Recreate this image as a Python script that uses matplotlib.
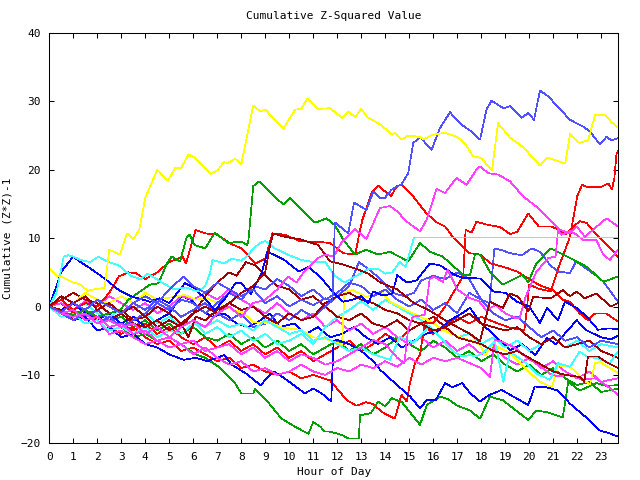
import matplotlib
matplotlib.use("Agg")
import matplotlib.pyplot as plt

# (hour, cumulative value) vertices
yellow_top = [(0, 5.6), (0.3, 4.5), (0.6, 4.2), (1.0, 3.5), (1.3, 3.2), (1.6, 2.3), (2.0, 2.6), (2.3, 2.7),
              (2.5, 8.3), (2.95, 7.6), (3.15, 9.8), (3.25, 10.7), (3.5, 9.8), (3.75, 11.2), (4.0, 15.9),
              (4.5, 20.0), (4.95, 18.4), (5.25, 20.3), (5.5, 20.3), (5.8, 22.2), (6.0, 21.9), (6.75, 19.4),
              (7.05, 20.0), (7.25, 21.1), (7.45, 21.0), (7.75, 21.6), (8.0, 20.8), (8.5, 29.4), (8.8, 28.5),
              (9.0, 28.8), (9.75, 26.0), (10.25, 28.8), (10.5, 28.9), (10.75, 30.4), (11.2, 28.9),
              (11.7, 29.0), (12.2, 27.6), (12.45, 28.5), (12.75, 27.7), (13.0, 28.9), (13.25, 27.7),
              (13.8, 26.6), (14.3, 25.1), (14.4, 25.4), (14.7, 24.4), (14.95, 25.0), (15.45, 24.8),
              (15.6, 24.4), (15.95, 25.1), (16.5, 25.4), (17.0, 24.8), (17.35, 23.7), (17.65, 22.0),
              (18.0, 21.7), (18.45, 19.9), (18.7, 26.8), (19.2, 24.7), (19.75, 23.3), (20.45, 20.6),
              (20.75, 21.8), (21.5, 20.9), (21.7, 25.2), (22.1, 23.9), (22.45, 24.3), (22.75, 28.0),
              (23.15, 28.0), (23.45, 26.9), (23.7, 26.2)]
slate_top = [(0, 0), (0.5, -0.8), (1, 0.5), (1.5, -0.5), (2, 1), (2.5, 0), (3, -1), (3.5, 0.5), (4, 1.5),
             (4.5, 0.5), (5, 2.5), (5.6, 4.4), (6, 3), (6.5, 2), (7, 3.5), (7.5, 2.5), (8, 1.5), (8.5, 2.5),
             (9, 0.5), (9.5, 1.5), (10, 0), (10.5, 1), (11, 0.2), (11.5, 1.2), (11.8, 0.8), (11.9, 12.3),
             (12.46, 10.7), (12.7, 15.2), (13.22, 14.1), (13.5, 16.8), (13.78, 15.9), (13.99, 15.9),
             (14.27, 17.1), (14.68, 17.9), (14.96, 19.5), (15.17, 23.9), (15.45, 24.8), (15.93, 22.9),
             (16.28, 26.1), (16.7, 28.4), (16.9, 27.6), (17.18, 26.6), (17.67, 25.4), (17.95, 24.4),
             (18.22, 28.8), (18.43, 30.1), (18.92, 29.0), (19.2, 29.3), (19.68, 27.6), (19.96, 28.3),
             (20.2, 27.3), (20.45, 31.6), (20.8, 30.7), (21.7, 27.3), (22.25, 26.3), (22.53, 25.6),
             (22.95, 23.7), (23.22, 24.8), (23.43, 24.3), (23.7, 24.6)]
green_peak = [(0, 0), (0.5, -0.8), (1, -1.2), (1.5, -0.5), (2, -1.5), (2.5, -1), (2.95, -0.5), (3.3, 1.0),
              (3.7, 2), (4.2, 3.2), (4.55, 3.4), (4.9, 6.3), (5.1, 7.3), (5.45, 6.6), (5.73, 10.2),
              (5.85, 10.5), (6.05, 9.0), (6.5, 8.5), (6.9, 10.8), (7.45, 9.3), (8.0, 9.5), (8.25, 9.0),
              (8.3, 9.7), (8.5, 17.6), (8.74, 18.3), (9.75, 14.9), (10.03, 15.9), (11.0, 12.4), (11.2, 12.4),
              (11.55, 12.9), (11.9, 11.9), (12.25, 9.8), (12.74, 7.6), (13.2, 8.3), (13.7, 7.6), (14.2, 8.0),
              (14.96, 6.6), (15.45, 9.3), (15.86, 8.0), (16.4, 7.3), (17.25, 4.6), (17.53, 4.6),
              (17.74, 7.6), (17.95, 7.6), (18.36, 5.1), (18.9, 3.2), (19.7, 4.6), (19.96, 3.6), (20.3, 6.3),
              (20.9, 8.5), (21.7, 7.1), (22.4, 5.8), (23.1, 3.6), (23.7, 4.4)]
magenta_b = [(0, 0), (0.5, -1), (1, -1.5), (1.5, -1), (2, -2.5), (2.5, -2), (3, -3), (3.5, -2.5), (4, -4),
             (4.5, -3), (5, -4.5), (5.5, -3), (6, -2), (6.5, -3), (7, -1), (7.5, 0), (8, -1.5), (8.5, 0.5),
             (9, 1), (9.5, 2.5), (9.95, 4.4), (10.3, 3.5), (10.6, 5), (11.2, 7.1), (11.5, 7.6), (11.85, 7.3),
             (12.2, 9.5), (12.74, 11.3), (13.22, 9.9), (13.78, 14.4), (14.2, 14.7), (14.5, 13.9),
             (14.9, 12.4), (15.45, 11.0), (15.73, 12.7), (16.14, 17.2), (16.49, 16.6), (16.97, 18.8),
             (17.39, 17.8), (17.8, 20.0), (17.95, 20.5), (18.29, 19.5), (18.7, 19.3), (19.2, 18.3),
             (19.75, 16.1), (20.3, 14.6), (20.86, 12.7), (21.28, 11.2), (21.7, 10.7), (21.98, 11.7),
             (22.32, 10.2), (23.22, 12.9), (23.7, 11.7)]
cyan_a = [(0, 0), (0.3, 2), (0.6, 7.3), (0.8, 7.5), (1.0, 7.3), (1.3, 6.8), (1.7, 6.5), (2.05, 7.3),
          (2.4, 6.6), (2.9, 6), (3.4, 4.5), (3.8, 4), (4.1, 4.8), (4.8, 3.3), (5.2, 2.5), (5.7, 2.8),
          (6.2, 2.2), (6.5, 3), (6.7, 4.9), (6.8, 6.8), (7.3, 6.3), (7.6, 7), (8.0, 6.7), (8.3, 7.5),
          (8.5, 8.5), (8.8, 9.3), (9.0, 9.6), (9.4, 8.5), (10, 7.5), (10.5, 6.8), (11, 6.5), (11.5, 6.5),
          (11.9, 4.5), (12.3, 3.5), (12.8, 4.5), (13.3, 5.5), (13.7, 5.5), (14.0, 4.8), (14.3, 5.0),
          (14.6, 6.5), (14.85, 5.8), (15.2, 10.1), (23.7, 10.1)]
cyan_b = [(0, 0), (0.5, -1.5), (1, -1), (1.5, -2.5), (2, -2), (2.5, -3.5), (3, -3), (3.5, -4), (4, -3),
          (4.5, -4.5), (5, -3.5), (5.5, -4), (6, -2.5), (6.5, -3), (7, -2), (7.5, -3), (8, -2.5), (8.5, -3.5),
          (9, -2), (9.5, -3), (10, -4), (10.5, -3.5), (11, -5), (11.5, -4.5), (12, -5.5), (12.5, -6.5),
          (13, -6), (13.5, -7), (14.2, -7.8), (14.6, -4.4), (15.16, -5.3), (15.86, -2.9), (16.3, -4.5),
          (16.8, -6.5), (17.2, -7.3), (17.53, -7.1), (17.8, -7.3), (18.15, -6.6), (18.57, -5.1),
          (18.92, -11.0), (19.2, -6.6), (19.8, -8.1), (20.3, -9.8), (20.86, -10.7), (21.2, -8.3),
          (21.7, -8.8), (22.1, -6.6), (22.4, -7.3), (22.87, -7.6), (23.36, -8.3), (23.64, -6.8), (23.7, -6.6)]
cyan_c = [(0, 0), (0.5, 1), (1, -0.5), (1.5, 0.5), (2, -1), (2.5, -1.5), (3, -0.5), (3.5, -2), (4, -1),
          (4.5, -2.5), (5, -1.5), (5.5, -3), (6, -2), (6.5, -4), (7, -3), (7.5, -4.5), (8, -3.5), (8.5, -5),
          (9, -4), (9.5, -5.5), (10, -5), (10.5, -4), (11, -5.5), (11.5, -3), (12, -1.5), (12.5, -0.5),
          (13, 0.8), (13.5, -0.5), (14, 1), (14.5, 0), (15, -1), (15.5, -2), (16, -3.5), (16.5, -3),
          (17, -4.5), (17.5, -4), (18, -5.5), (18.5, -4.5), (19, -6), (19.5, -5), (20, -6.5), (20.5, -5.5),
          (21, -4.5), (21.5, -6), (22, -5), (22.5, -6.5), (23, -5.5), (23.7, -6)]
red_f = [(0, 0), (0.5, 1), (1, -0.5), (1.5, 0.5), (2, 0), (2.5, 2), (2.9, 4.4), (3.3, 5), (3.6, 4.9),
         (4.0, 4), (4.5, 5), (5, 6.5), (5.55, 7.3), (5.7, 6.3), (6.1, 11.2), (6.5, 10.7), (7, 10.5),
         (7.5, 9.3), (8, 8.5), (8.6, 6.3), (9.0, 7), (9.3, 10.7), (9.8, 10.5), (10.5, 9.5), (11, 9.5),
         (11.7, 9.3), (12.25, 7.8), (12.75, 7.6), (12.95, 11.2), (13.05, 12.7), (13.45, 16.8), (13.7, 17.7),
         (14.1, 16.5), (14.25, 16.2), (14.5, 17.7), (14.7, 17.7), (15.05, 16.6), (15.7, 13.7), (16.1, 12.4),
         (16.5, 11.7), (16.85, 10.0), (17.5, 7.8), (17.95, 7.6), (18.4, 6.3), (19.1, 5.6), (19.5, 5.1),
         (20.0, 4.0), (20.5, 3.0), (21.0, 2.4), (21.4, 1.0), (21.7, 0.7), (22.1, -1), (22.45, -2),
         (22.75, -1), (23.2, -1), (23.7, -2.2)]
red_d = [(0, 0), (0.5, -1), (1, -0.5), (1.5, -2), (2, -1.5), (2.5, -3), (3, -4), (3.5, -3), (4, -4.5),
         (4.5, -5.5), (5, -5), (5.5, -6.5), (6, -6), (6.5, -7), (7, -8), (7.5, -7.5), (8, -9), (8.5, -8.5),
         (9, -9.5), (9.5, -10), (10, -9.5), (10.5, -10.5), (11, -10), (11.7, -10.8), (12.4, -13.7),
         (12.8, -14.5), (13.2, -14), (13.45, -14.2), (13.9, -15.5), (14.4, -16.4), (14.68, -12.9),
         (14.9, -13.9), (15.03, -11.2), (15.24, -8.3), (15.45, -7), (15.65, -2.4), (16.0, -2.4),
         (16.5, 0), (17.0, 3), (17.25, 4.4), (17.35, 11.2), (17.6, 10.8), (17.8, 12.4), (18.2, 12.0),
         (18.8, 11.6), (19.2, 10.6), (19.5, 10.9), (19.96, 13.6), (20.4, 11.7), (20.9, 11.7), (21.2, 11.3),
         (21.5, 10.5), (21.8, 11.5), (22.1, 12.5), (22.4, 12.2), (22.8, 10.5), (23.1, 9.5), (23.7, 7.3)]
red_c = [(0, 0), (0.5, 0.5), (1, -1), (1.5, -0.5), (2, -2), (2.5, -1), (3, -2.5), (3.5, -3.5), (4, -2.5),
         (4.5, -4), (5, -3), (5.5, -4.5), (6, -5.5), (6.5, -4.5), (7, -6), (7.5, -5), (8, -6.5), (8.5, -5.5),
         (9, -7), (9.5, -6), (10, -7.5), (10.5, -6.5), (11, -8), (11.5, -7), (12, -6), (12.5, -5),
         (13, -6.5), (13.5, -5.5), (14, -4), (14.5, -5), (15, -3.5), (15.5, -2.5), (16, -4), (16.5, -3),
         (17, -1.5), (17.5, -2.5), (18, -1.5), (18.64, -2.4), (19.27, -3.2), (19.8, -3.4), (19.9, -0.5),
         (20.0, 3.2), (20.4, 2.6), (20.9, 2.2), (21.2, 5.5), (21.7, 10.2), (22.0, 16.1), (22.2, 17.8),
         (22.4, 17.5), (23.0, 17.5), (23.3, 18.0), (23.45, 17.1), (23.55, 18.8), (23.64, 22.4), (23.7, 22.7)]
blue_bottom = [(0, 0), (0.5, -1), (1, -2), (1.5, -1.5), (2, -3.5), (2.5, -3), (3, -4.5), (3.5, -4), (4, -5.5),
               (4.5, -6), (5, -7), (5.6, -7.8), (6.1, -7.5), (6.6, -8), (7.3, -7.1), (7.6, -8.5), (8.2, -9.8),
               (8.8, -11.5), (9.35, -9.5), (9.8, -10.5), (10.65, -12.7), (11.0, -12.0), (11.35, -12.7),
               (11.75, -13.9), (11.85, -5.0), (12.0, -4.9), (12.5, -5.5), (13.0, -6.5), (13.5, -8),
               (13.8, -9.3), (14.5, -11.5), (15.05, -13.2), (15.45, -14.9), (15.73, -13.7), (16.1, -13.7),
               (16.5, -11.2), (16.8, -11.8), (17.2, -11.2), (17.55, -12.7), (17.95, -13.9), (18.3, -13.0),
               (18.85, -12.2), (19.5, -13.5), (19.96, -14.4), (20.23, -11.7), (20.7, -11.8), (21.2, -12.3),
               (21.7, -14.2), (22.5, -16.6), (22.9, -18.1), (23.3, -18.5), (23.7, -19.0)]
green_bottom = [(0, 0), (0.5, -1.5), (1, -1), (1.5, -2.5), (2, -2), (2.5, -3.5), (3, -3), (3.5, -4.5), (4, -4),
                (4.5, -5), (5, -4.5), (5.6, -5.8), (6.1, -7), (6.5, -7.5), (7.05, -8.8), (7.74, -11.2),
                (8.0, -12.7), (8.5, -12.7), (8.57, -12.1), (9.0, -13.5), (9.68, -16.4), (10.2, -17.5),
                (10.52, -18.1), (10.8, -18.6), (11.0, -16.9), (11.3, -17.6), (11.49, -18.3), (11.7, -18.3),
                (12.2, -18.8), (12.46, -19.3), (12.9, -19.3), (12.95, -15.9), (13.4, -15.6), (13.7, -13.9),
                (14.0, -14.6), (14.27, -13.4), (14.7, -14), (15.45, -17.3), (15.73, -14.4), (16.28, -13.2),
                (16.6, -13.5), (17.0, -14.5), (17.53, -15.2), (17.95, -16.4), (18.36, -13.2), (18.9, -13.7),
                (19.96, -16.6), (20.3, -15.2), (20.8, -15.5), (21.4, -16.2), (21.63, -11.0), (22.1, -12.3),
                (22.8, -11.2), (23.2, -11.6), (23.7, -11.5)]
blue_b = [(0, 0), (0.2, 2), (0.5, 5.1), (1.0, 7.3), (1.3, 6.5), (1.7, 5.6), (2.3, 4.1), (2.9, 2.4), (3.4, 1.5),
          (4.2, 0.7), (4.6, 1.2), (5.0, 0.5), (5.65, 3.4), (6.0, 2.8), (6.4, 1.5), (6.9, -0.5), (7.3, 1.0),
          (7.75, 3.4), (8.0, 3.4), (8.4, 1.8), (8.85, 4.9), (9.1, 8.0), (9.4, 7.5), (9.8, 6.8), (10.4, 5.1),
          (10.8, 5.8), (11.3, 4.3), (11.75, 2.4), (12.25, 0.7), (12.65, 1), (13.0, 1.5), (13.3, 0.5),
          (13.5, 2.2), (13.9, 1.6), (14.3, 1.9), (14.5, 4.6), (14.9, 3.5), (15.3, 3.8), (15.86, 6.3),
          (16.3, 6.0), (16.8, 4.8), (17.2, 4.2), (17.95, 4.1), (18.5, 2.2), (19.0, 2.0), (19.5, 0.7),
          (20.0, 0.0), (20.45, -2.4), (20.74, -0.2), (21.2, -2.0), (21.49, 0.7), (21.98, -0.2), (22.4, -1.5),
          (22.87, -3.4), (23.3, -3.2), (23.7, -3.3)]
blue_c = [(0, 0), (0.5, -0.5), (1, 0.5), (1.5, -1), (2, -2), (2.5, -1), (3, -2.5), (3.5, -1.5), (4, -3),
          (4.5, -2), (5, -1), (5.5, 1.5), (5.9, 1), (6.3, -0.5), (6.8, -1.5), (7.3, -1), (7.8, -2.5), (8.3, -3),
          (8.8, -2), (9.2, -1), (9.6, -3), (10.2, -2.5), (10.7, -4), (11.2, -3), (11.7, -4.5), (12.2, -4),
          (12.7, -3), (13.2, -4.5), (13.7, -5.5), (14.2, -4.5), (14.7, -6), (15.2, -5), (15.7, -4),
          (16.2, -3.5), (16.7, -2), (17.2, -1), (17.53, -0.2), (18, -2.5), (18.5, -4), (19.2, -6.4),
          (19.7, -5.5), (20.25, -7.1), (20.74, -4.6), (21.1, -5.5), (21.98, -2.0), (22.4, -3.5), (23, -4.5),
          (23.4, -4.8), (23.7, -4.3)]
slate_b = [(0, 0), (0.5, -1), (1, -2), (1.5, -1), (2, -2.5), (2.5, -1.5), (3, -3), (3.5, -2), (4, -1),
           (4.5, 0.5), (5, -0.5), (5.5, 1), (6, 0.5), (6.5, -1), (7, 0.5), (7.5, 2), (8, 1), (8.5, 3), (9, 2.5),
           (9.5, 4), (10, 3), (10.5, 1.5), (11, 2.5), (11.5, 1), (12, 2), (12.5, 3.5), (13, 3), (13.5, 1.5),
           (14, 2.5), (14.5, 1), (15, 0), (15.5, 1), (16, -0.5), (16.5, 0.5), (17, -1), (17.5, 2), (18.0, 1),
           (18.35, 0.5), (18.55, 8.5), (18.9, 8.2), (19.2, 7.8), (19.7, 7.5), (20.1, 8.5), (20.45, 8),
           (20.86, 6.1), (21.2, 5.1), (21.7, 4.9), (21.96, 6.6), (22.4, 5.5), (22.8, 4.5), (23.1, 3.6),
           (23.7, 0.7)]
slate_c = [(0, 0), (0.5, 1), (1, -0.5), (1.5, -1.5), (2, -0.5), (2.5, -2), (3, -1), (3.5, 0.5), (4, -0.5),
           (4.5, 1), (5, 0), (5.5, -1.5), (6, -0.5), (6.5, 0.5), (7, -1), (7.5, -2), (8, -1), (8.5, -3),
           (9, -2.5), (9.5, -1), (10, -2), (10.5, -0.5), (11, -1.5), (11.5, 0), (12, 1.5), (12.5, 3),
           (12.9, 6.5), (13.3, 5.5), (13.8, 4), (14.3, 2), (14.8, 1.5), (15.2, 2), (15.5, 3.8), (16, 4.5),
           (16.5, 4), (17, 5), (17.5, 4), (18, 1), (18.5, -1), (19, -2), (19.5, -1.5), (20, -3), (20.5, -4.5),
           (21, -3.5), (21.5, -5), (22, -4.5), (22.5, -6), (23, -5), (23.7, -5.5)]
magenta_c = [(0, 0), (0.5, -1), (1, -0.5), (1.5, -2), (2, -1.5), (2.5, -3), (3, -2.5), (3.5, -4), (4, -3.5),
             (4.5, -5), (5, -4.5), (5.5, -5.5), (6, -5), (6.5, -6.5), (7, -6), (7.5, -5.5), (8, -7), (8.5, -6),
             (9, -7.5), (9.5, -6.5), (10, -8), (10.5, -7), (11, -7.5), (11.5, -8.5), (12, -8), (12.5, -7),
             (13, -6), (13.5, -4.9), (14, -5.5), (14.5, -7.5), (14.8, -8.3), (14.95, -3.4), (15.15, -1.5),
             (15.65, -1.2), (15.85, 3.9), (16.0, 4.4), (16.4, 3.6), (16.6, 5.4), (17.0, 2.5), (17.53, 1.2),
             (17.9, 0.8), (18.2, -0.5), (18.6, 0.2), (19.0, -1), (19.45, -1.7), (19.6, -1.7), (19.85, 1.4),
             (20.3, 5.1), (20.8, 7.1), (21.1, 7.3), (21.2, 11.2), (21.35, 10.5), (21.7, 11.0), (21.98, 10.5),
             (22.25, 9.7), (22.8, 9.7), (23.08, 7.6), (23.36, 6.8), (23.7, 8.3)]
magenta_d = [(0, 0), (0.5, -1.5), (1, -1), (1.5, -2.5), (2, -2), (2.5, -4), (3, -3.5), (3.5, -4.5), (4, -5.5),
             (4.5, -5), (5, -6), (5.5, -5.5), (6, -7), (6.5, -6), (7, -7.5), (7.5, -8.5), (8, -8), (8.5, -9.5),
             (9, -9), (9.5, -10), (10, -9.5), (10.5, -8.5), (11, -9.5), (11.5, -10), (12, -9), (12.5, -9.5),
             (13, -8.5), (13.5, -9), (14, -8), (14.5, -8.8), (15, -7.5), (15.5, -8.5), (16, -7.5), (16.5, -8),
             (17, -7.5), (17.53, -8.3), (18.0, -9), (18.36, -10.3), (18.57, -4.9), (18.9, -5.2), (19.4, -6),
             (19.9, -7.5), (20.3, -8.3), (20.9, -9.9), (21.2, -10.2), (21.7, -10), (22.2, -10.7),
             (22.75, -10.5), (23.2, -11.5), (23.7, -12.9)]
magenta_e = [(0, 0), (0.5, 0.5), (1, -0.5), (1.5, 0.8), (2, 0), (2.5, 1.5), (3, 0.5), (3.5, -0.5), (4, 0.5),
             (4.5, -1), (5, 0), (5.5, 1.5), (6, 1), (6.5, 2), (7, 1), (7.5, 2.5), (8, 1), (8.5, 0), (9, -1),
             (9.5, 0.5), (10, -1), (10.5, -2), (11, -1), (11.5, -3), (12, -2), (12.5, -3.5), (13, -2.5),
             (13.5, -4), (14, -3), (14.5, -4.5), (15, -5.5), (15.5, -4.5), (16, -6), (16.5, -5), (17, -6.5),
             (17.5, -5.5), (18, -7), (18.5, -6), (19, -7.5), (19.5, -8.5), (20, -7.5), (20.5, -9), (21, -8),
             (21.5, -9.5), (22, -10.5), (22.5, -9.5), (23, -11), (23.7, -10.5)]
darkred_g = [(0, 0), (0.5, 1.5), (1, 0.5), (1.5, 1.5), (2, -0.5), (2.5, 0.5), (3, -1), (3.5, 0), (4, -1.5),
             (4.5, 0), (5, -1), (5.5, -2.5), (6, -1), (6.5, 0), (7, -1), (7.5, 0.5), (8, 2), (8.5, 3), (9.0, 5),
             (9.2, 9), (9.33, 10.7), (9.8, 10.2), (10.5, 9.8), (11.2, 9), (11.7, 6.6), (12.2, 6.2), (12.8, 5.5),
             (13.3, 4.8), (13.8, 3.5), (14.5, 2.5), (15.2, 0.5), (15.8, -0.5), (16.5, -2), (17.0, -3),
             (17.53, -4), (17.95, -5.1), (18.36, 0.7), (18.9, -0.2), (19.2, 1.9), (19.55, 1.4), (19.96, -0.7),
             (20.17, 1.4), (20.9, 1.2), (21.4, 2.4), (21.7, 1.5), (21.98, 2.2), (22.3, 1.2), (22.8, 1.9),
             (23.4, 0.0), (23.7, 0.5)]
darkred_h = [(0, 0), (0.5, -0.5), (1, -2), (1.5, -1), (2, -2.5), (2.5, -2), (3, -1), (3.5, -2.5), (4, -3),
             (4.5, -2), (5, -3.5), (5.5, -2.5), (5.8, -4.5), (6.1, -1.5), (6.5, -2), (7, -0.5), (7.5, 0.5),
             (8, -0.5), (8.5, 0), (9, -1.5), (9.5, -2.5), (10, -1), (10.5, -2), (11, -1.5), (11.5, 0.5),
             (12, 1.5), (12.5, 2), (13, 1), (13.5, 0.5), (14, -0.5), (14.5, -1), (15, -2), (15.5, -2.5),
             (16, -3.5), (16.5, -3), (17, -4.5), (17.5, -5), (18, -5.5), (18.5, -6.5), (19, -7), (19.5, -6.5),
             (20, -7.5), (20.5, -8.5), (21, -9.5), (21.5, -10), (22.1, -10.3), (22.3, -11), (22.45, -7.3),
             (22.87, -7.3), (23.2, -8.1), (23.7, -9)]
darkred_i = [(0, 0), (0.5, 1), (1, 2), (1.5, 1), (2, 0.5), (2.5, -1), (3, -0.5), (3.5, -2), (4, -1.5),
             (4.5, -3), (5, -2), (5.5, -3), (6, -1), (6.5, 1.5), (7, 3.5), (7.5, 5), (7.8, 4.5), (8.2, 6.5),
             (8.6, 6), (9, 4.5), (9.5, 3), (10, 2.5), (10.5, 1), (11, 1.5), (11.5, 0), (12, -1.5), (12.5, -2),
             (13, -1), (13.5, -2.5), (14, -3), (14.5, -2), (15, -3.5), (15.5, -2.5), (16, -1.5), (16.5, -3),
             (17, -2), (17.5, -1), (18, -2.5), (18.5, -3), (19, -3.5), (19.5, -3), (20, -4.5), (20.5, -5.5),
             (21, -4.5), (21.5, -6), (22, -5.5), (22.5, -5), (23, -6.5), (23.7, -7.5)]
yellow_low = [(0, 0), (0.5, 1.5), (1, 0.5), (1.5, 2), (2, 1), (2.5, 0.5), (3, 1.5), (3.5, 0.5), (4, 2),
              (4.5, 1), (5.2, 1.4), (5.65, 1.7), (6.1, 1), (6.6, 1.2), (7.3, 0), (8.1, -1), (8.5, -2.3),
              (9.3, -2.4), (9.7, -3.1), (10.5, -3.4), (11.0, -4.5), (11.7, -4.9), (12.2, -5.6), (12.3, 2.1),
              (12.65, 2.4), (13.2, 1.4), (13.9, 2), (14.2, 0.7), (14.7, -0.2), (15.15, -1), (15.9, -2.2),
              (16.4, -3.4), (17.0, -4.4), (17.53, -4.9), (17.95, -5.6), (18.15, -7.1), (18.5, -5.6),
              (19.2, -6.8), (19.9, -9.3), (20.45, -11), (20.95, -11.8), (21.2, -8.6), (21.7, -8.8),
              (22.53, -11.5), (22.74, -8.3), (22.95, -8.1), (23.36, -9), (23.7, -9.7)]
green_c = [(0, 0), (0.5, -0.5), (1, 0.5), (1.5, -1), (2, -0.5), (2.5, -2), (3, -1.5), (3.5, -3), (4, -2),
           (4.5, -3.5), (5, -2.5), (5.5, -4), (6, -3), (6.5, -4.5), (7, -5), (7.5, -4), (8, -5.5), (8.5, -4.5),
           (9, -6), (9.5, -5), (10, -6.5), (10.5, -5.5), (11, -7), (11.5, -6), (12, -5), (12.5, -6.5),
           (13, -5.5), (13.5, -7), (14, -6), (14.5, -4.5), (15, -5.5), (15.5, -6.5), (16, -5), (16.5, -6),
           (17, -7.5), (17.5, -6.5), (18, -8), (18.5, -7), (19, -8.5), (19.5, -9.5), (20, -8.5), (20.5, -10),
           (21, -9), (21.5, -10.5), (22, -11.5), (22.5, -11), (23, -12.5), (23.7, -12)]

RED, GREEN, BLUE, MAGENTA = "#ff0000", "#00a000", "#0000ff", "#ff40ff"
CYAN, DARKRED, SLATE, YELLOW = "#40ffff", "#a00000", "#5050ff", "#ffff00"

series = [
    (red_c, RED), (green_c, GREEN), (blue_c, BLUE), (magenta_e, MAGENTA), (cyan_c, CYAN),
    (darkred_i, DARKRED), (slate_c, SLATE), (yellow_low, YELLOW),
    (red_d, RED), (green_bottom, GREEN), (blue_bottom, BLUE), (magenta_d, MAGENTA), (cyan_b, CYAN),
    (darkred_h, DARKRED), (slate_b, SLATE),
    (red_f, RED), (green_peak, GREEN), (blue_b, BLUE), (magenta_c, MAGENTA), (cyan_a, CYAN),
    (darkred_g, DARKRED), (magenta_b, MAGENTA), (slate_top, SLATE), (yellow_top, YELLOW),
]

plt.rcParams['font.family'] = 'DejaVu Sans Mono'
plt.rcParams['font.size'] = 8

fig = plt.figure(figsize=(6.4, 4.8), dpi=100)
ax = fig.add_axes([0.077, 0.0765, 0.8886, 0.8548])

for pts, col in series:
    hrs = [p[0] for p in pts]
    vals = [p[1] for p in pts]
    ax.plot(hrs, vals, color=col, lw=0.5, antialiased=False)

ax.set_xlim(0, 23.7)
ax.set_ylim(-20, 40)
ax.set_xticks(range(24))
ax.set_yticks(range(-20, 41, 10))
ax.tick_params(direction="in", length=3.5, width=0.75, top=True, right=True, pad=6, colors="black")
for sp in ax.spines.values():
    sp.set_linewidth(0.75)

ax.set_title("Cumulative Z-Squared Value", fontsize=8, pad=10)
ax.set_xlabel("Hour of Day", fontsize=8, labelpad=4)
ax.set_ylabel("Cumulative (Z*Z)-1", fontsize=8, labelpad=6)

fig.savefig("out.png", dpi=100)
